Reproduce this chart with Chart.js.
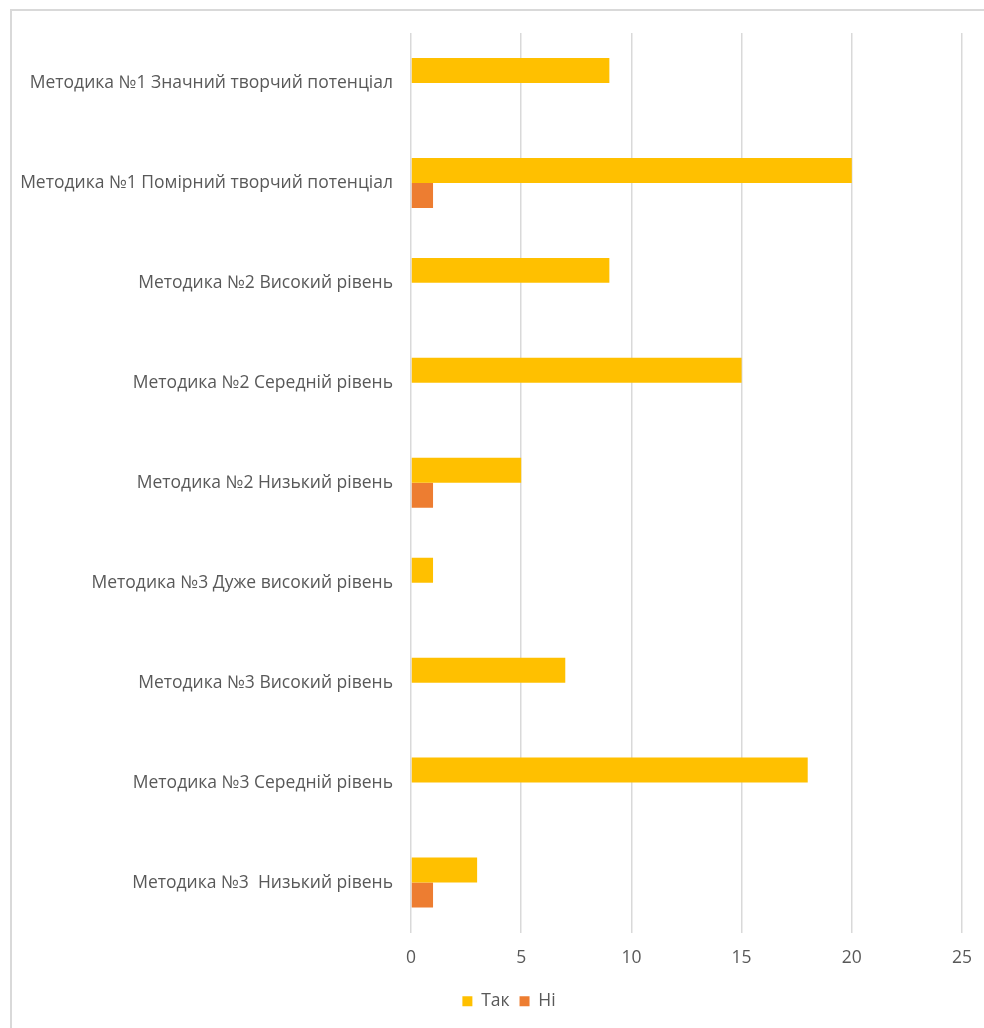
<!DOCTYPE html>
<html>
<head>
<meta charset="utf-8">
<script src="https://cdn.jsdelivr.net/npm/chart.js@4/dist/chart.umd.min.js"></script>
<style>
  html, body { margin: 0; padding: 0; background: #fff; overflow: hidden; }
  #frame { position: absolute; left: 10px; top: 9px; width: 1200px; height: 1200px;
           border-top: 2px solid #d9d9d9; border-left: 2px solid #d9d9d9; box-sizing: border-box; }
  #wrap { position: absolute; left: 0; top: 0; width: 984px; height: 1028px; }
</style>
</head>
<body>
<div id="frame"></div>
<div id="wrap"><canvas id="c" width="984" height="1028"></canvas></div>
<script>
const categories = [
  "Методика №1 Значний творчий потенціал",
  "Методика №1 Помірний творчий потенціал",
  "Методика №2 Високий рівень",
  "Методика №2 Середній рівень",
  "Методика №2 Низький рівень",
  "Методика №3 Дуже високий рівень",
  "Методика №3 Високий рівень",
  "Методика №3 Середній рівень",
  "Методика №3  Низький рівень"
];
const seriesNames = ["Так", "Ні"];
const yesValues = [9, 20, 9, 15, 5, 1, 7, 18, 3];
const noValues = [0, 1, 0, 0, 1, 0, 0, 0, 1];
const xTicks = [0, 5, 10, 15, 20, 25];

const FONT = { family: "'Open Sans', sans-serif", size: 17.5 };
const TEXT = "#595959";

const legendShift = {
  id: "legendShift",
  afterLayout(chart) {
    if (chart.legend) { chart.legend.left += 22; chart.legend.right += 22; }
  }
};

new Chart(document.getElementById("c"), {
  type: "bar",
  data: {
    labels: categories,
    datasets: [
      { label: seriesNames[0], data: yesValues, backgroundColor: "#FFC000", borderWidth: 0 },
      { label: seriesNames[1], data: noValues, backgroundColor: "#ED7D31", borderWidth: 0 }
    ]
  },
  options: {
    indexAxis: "y",
    responsive: false,
    animation: false,
    devicePixelRatio: 1,
    layout: { padding: { left: 12, right: 22, top: 33, bottom: 8 } },
    datasets: { bar: { categoryPercentage: 0.5, barPercentage: 1.0 } },
    scales: {
      x: {
        min: xTicks[0], max: xTicks[xTicks.length - 1],
        afterBuildTicks: (s) => { s.ticks = xTicks.map(v => ({ value: v })); },
        grid: { color: "#d9d9d9", lineWidth: 1.5, drawTicks: false },
        border: { display: false },
        ticks: { color: TEXT, font: FONT, padding: 15 },
        afterFit: (s) => { s.height = 50; s.paddingLeft = 0; s.paddingRight = 0; }
      },
      y: {
        grid: { display: false, drawTicks: false },
        border: { display: false },
        ticks: { color: TEXT, font: FONT, padding: 18, autoSkip: false },
        afterFit: (s) => { s.width = 399; }
      }
    },
    plugins: {
      legend: {
        position: "bottom",
        labels: { color: TEXT, font: FONT, boxWidth: 10, boxHeight: 10, padding: 10 }
      },
      tooltip: { enabled: false }
    }
  },
  plugins: [legendShift]
});
</script>
</body>
</html>
